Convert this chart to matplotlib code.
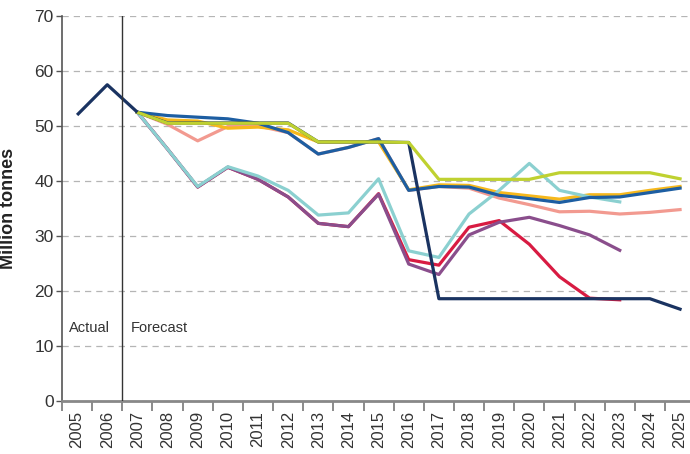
import matplotlib
matplotlib.use("Agg")
import matplotlib.pyplot as plt
import numpy as np

plt.rcParams['font.family'] = ['Liberation Sans', 'DejaVu Sans']

# Years on the category axis
years = list(range(2005, 2026))
actual_years = [2005, 2006, 2007]
actual = [52.0, 57.5, 52.5]

# Forecast series (2007 onwards)
fc_years = list(range(2007, 2026))
navy = [52.5, 50.55, 50.55, 50.55, 50.55, 50.55, 47.1, 47.1, 47.1, 47.0,
        18.6, 18.6, 18.6, 18.6, 18.6, 18.6, 18.6, 18.6, 16.7]
green = [52.5, 50.5, 50.5, 50.5, 50.5, 50.5, 47.1, 47.1, 47.1, 47.0,
         40.3, 40.3, 40.3, 40.3, 41.5, 41.5, 41.5, 41.5, 40.4]
blue = [52.5, 51.9, 51.6, 51.3, 50.5, 48.8, 44.9, 46.1, 47.7, 38.3,
        39.0, 38.9, 37.4, 36.8, 36.1, 37.0, 37.1, 37.9, 38.7]
orange = [52.5, 51.1, 50.9, 49.6, 49.8, 49.3, 47.1, 47.1, 47.1, 38.4,
          39.3, 39.2, 37.9, 37.3, 36.7, 37.5, 37.5, 38.3, 39.0]
salmon = [52.5, 50.3, 47.3, 49.9, 50.0, 48.8, 44.9, 46.1, 47.7, 38.3,
          39.0, 38.7, 36.9, 35.7, 34.4, 34.5, 34.0, 34.3, 34.8]
teal_years = list(range(2007, 2024))
teal = [52.5, 45.8, 39.0, 42.6, 40.9, 38.3, 33.8, 34.2, 40.4, 27.3,
        26.1, 34.0, 38.3, 43.2, 38.3, 37.1, 36.2]
purple = [52.5, 45.8, 38.9, 42.5, 40.3, 37.1, 32.3, 31.7, 37.6, 24.9,
          23.0, 30.2, 32.5, 33.4, 31.9, 30.2, 27.4]
red = [52.5, 45.8, 38.9, 42.5, 40.3, 37.1, 32.3, 31.7, 37.7, 25.7,
       24.7, 31.6, 32.8, 28.5, 22.6, 18.7, 18.4]

yticks = [0, 10, 20, 30, 40, 50, 60, 70]

fig = plt.figure(figsize=(6.9, 4.54), dpi=100)
ax = fig.add_axes([0.0899, 0.1167, 0.9101, 0.8481])

lw = 2.3
ax.plot(actual_years, actual, color='#1a3361', lw=lw, zorder=3, solid_capstyle='butt')
ax.plot(fc_years, navy, color='#1a3361', lw=lw, zorder=2.8)
ax.plot(fc_years, orange, color='#f6b81c', lw=lw, zorder=2.2)
ax.plot(fc_years, salmon, color='#f29a90', lw=lw, zorder=2.1)
ax.plot(fc_years, blue, color='#1d5ea2', lw=lw, zorder=2.5)
ax.plot(fc_years, green, color='#bfd130', lw=lw, zorder=2.9)
ax.plot(teal_years, red, color='#d81b42', lw=lw, zorder=2.3)
ax.plot(teal_years, purple, color='#8a4e8c', lw=lw, zorder=2.4)
ax.plot(teal_years, teal, color='#8bd0d0', lw=lw, zorder=2.45)

# actual / forecast divider
ax.axvline(2006.5, color='#333333', lw=1, zorder=4)
ax.text(2004.73, 13.2, 'Actual', fontsize=10.5, color='#333333', va='center')
ax.text(2006.77, 13.2, 'Forecast', fontsize=10.5, color='#333333', va='center')

ax.set_xlim(2004.5, 2025.33)
ax.set_ylim(0, 70)

ax.set_xticks(years)
ax.set_xticklabels([str(y) for y in years], rotation=90, fontsize=12, color='#333333')
ax.set_xticks(np.arange(2004.5, 2025, 1.0), minor=True)
ax.tick_params(axis='x', which='major', length=0, pad=7)
ax.tick_params(axis='x', which='minor', length=7, width=1.2, color='#777777')

ax.set_yticks(yticks)
ax.set_yticklabels([str(v) for v in yticks], fontsize=12.5, color='#333333')
ax.tick_params(axis='y', length=4, width=1, color='#555555', pad=2)

ax.grid(axis='y', color='#b5b5b5', lw=0.9, linestyle=(0, (5, 4)))
ax.set_axisbelow(True)

for s in ['top', 'right']:
    ax.spines[s].set_visible(False)
ax.spines['left'].set_color('#555555')
ax.spines['left'].set_linewidth(1.2)
ax.spines['bottom'].set_color('#888888')
ax.spines['bottom'].set_linewidth(2)

ax.set_ylabel('Million tonnes', fontsize=13, fontweight='bold', color='#222222')
ax.yaxis.set_label_coords(-0.072, 0.5)

fig.savefig('out.png', dpi=100)
